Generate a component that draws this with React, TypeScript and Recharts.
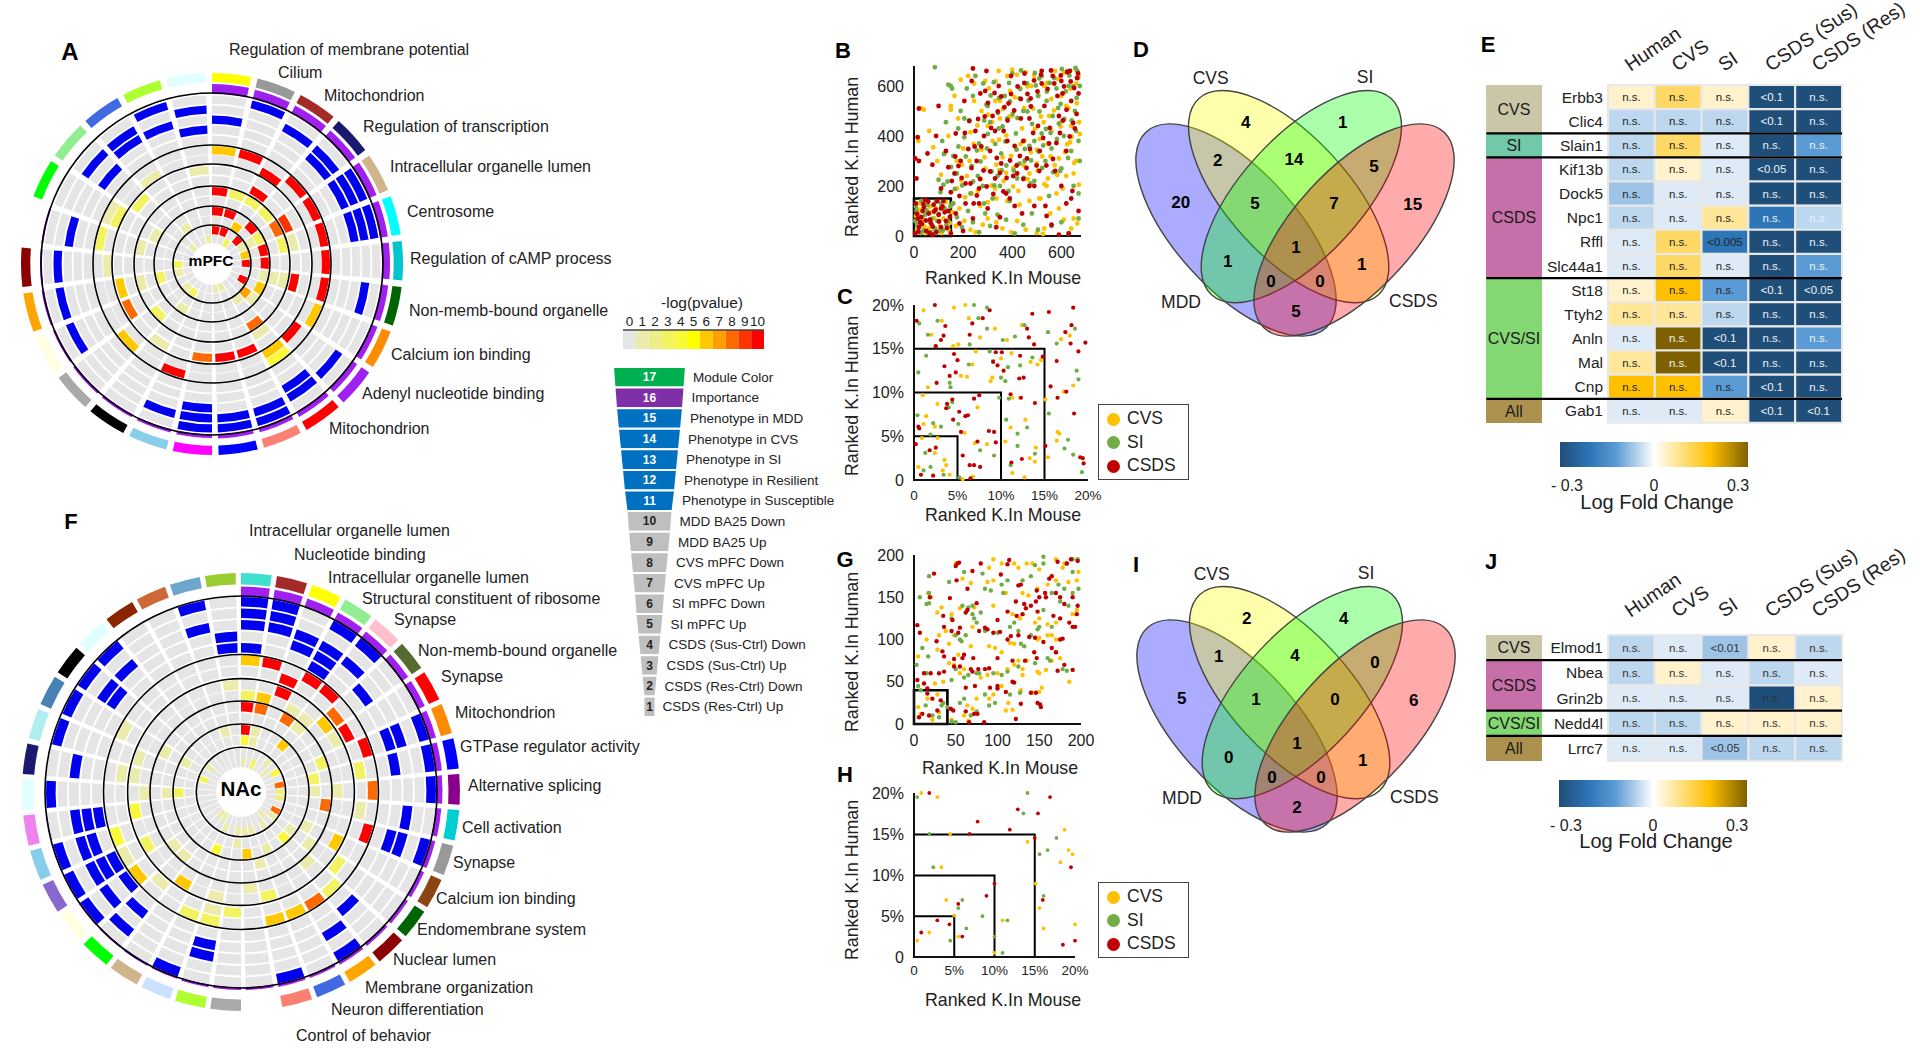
import React from "react";
import {
  PieChart, Pie, Sector, ScatterChart, Scatter, XAxis, YAxis, ReferenceArea, ReferenceLine,
  BarChart, Bar, Cell, LabelList, Legend, FunnelChart, Funnel,
} from "recharts";

const FONT = '"Liberation Sans", Arial, sans-serif';
const INK = "#222";
const GREY = "#e5e5e5";
const BLUE = "#0000ee";
const CVS_C = "#ffc000";
const SI_C = "#70ad47";
const CSDS_C = "#c00000";

// -log(pvalue) colour bins
const pvalLabels = [0, 1, 2, 3, 4, 5, 6, 7, 8, 9, 10];
const pvalColors = ["#e5e5e5", "#ebebac", "#eeee88", "#f3f362", "#f9f93a", "#ffff00", "#ffc800", "#ff9f00", "#ff6a00", "#ff3300", "#ff0000"];

// mPFC circle
const mpfcModules = ["#ffff00", "#999999", "#a52a2a", "#191970", "#d2b48c", "#00ffff", "#00c5cd", "#006400", "#ff8c00", "#a020f0", "#ff0000", "#fa8072", "#0000ff", "#ff00ff", "#87ceeb", "#000000", "#a9a9a9", "#ffffe0", "#ffa500", "#8b0000", "#ffffff", "#00ff00", "#90ee90", "#4169e1", "#adff2f", "#e0ffff"];
const mpfcImportance = [10, 9.5, 9, 8.5, 8.5, 8, 8, 7.5, 7, 6.5, 6, 5, 4.5, 4, 3.5, 3, 3, 2.5, 2.5, 2, 2, 0, 0, 0, 0, 0];
const mpfcBlue = [
  [1, 4, 5, 11, 12, 13, 24],
  [2, 3, 4, 5, 7, 9, 10, 11, 12, 13, 14, 17, 18, 19, 22, 23, 25],
  [0, 3, 4, 5, 10, 13, 20, 23, 24],
  [22, 25],
  [],
];
const mpfcHeat: Record<number, number>[] = [
  { 0: 6, 1: 10, 3: 10, 4: 10, 5: 10, 6: 10, 7: 10, 8: 6, 10: 4, 14: 10, 16: 6, 20: 3, 21: 1 },
  { 2: 10, 9: 10, 10: 6, 19: 1, 21: 3, 23: 1 },
  { 11: 10, 12: 10, 13: 8, 15: 1, 17: 8, 18: 6, 22: 3, 25: 1 },
  { 2: 10, 4: 9, 5: 1, 7: 10, 10: 1 },
  { 0: 10, 1: 3, 2: 3, 3: 3, 4: 8, 5: 3, 7: 1, 10: 8, 16: 3, 18: 1, 20: 1 },
  { 7: 1, 21: 1 },
  { 0: 10, 1: 10, 3: 10, 4: 3, 5: 10, 6: 10, 7: 1, 8: 6, 9: 1, 15: 1, 18: 3 },
  { 2: 6, 4: 1, 9: 7, 10: 1, 23: 1 },
  { 0: 10, 1: 10, 3: 10, 4: 1, 5: 6, 6: 10, 8: 10, 15: 3, 16: 1, 18: 1, 19: 3 },
  { 2: 3, 11: 1, 12: 1, 22: 1, 25: 1 },
];
const mpfcRingOuter = [168.5, 158.5, 148.5, 138.5, 128.5, 118, 109, 98, 88, 77, 67.5, 57, 48, 38, 29];
const mpfcCircles = [171, 119, 100, 78, 58, 39];
const mpfcTerms = ["Regulation of membrane potential", "Cilium", "Mitochondrion", "Regulation of transcription", "Intracellular organelle lumen", "Centrosome", "Regulation of cAMP process", "Non-memb-bound organelle", "Calcium ion binding", "Adenyl nucleotide binding", "Mitochondrion"];
const mpfcTermX = [229, 278, 324, 363, 390, 407, 410, 409, 391, 362, 329];
const mpfcTermY = [50, 73, 96, 127, 167, 212, 259, 311, 355, 394, 429];

// NAc circle
const nacModules = ["#40e0d0", "#a52a2a", "#ffff00", "#90ee90", "#ffc0cb", "#556b2f", "#ff0000", "#ff8c00", "#0000ff", "#8b008b", "#00ced1", "#999999", "#8b4513", "#006400", "#8b0000", "#ffa500", "#4169e1", "#fa8072", "#ffffff", "#a9a9a9", "#adff2f", "#cae1ff", "#d2b48c", "#00ff00", "#ffffe0", "#8968cd", "#87ceeb", "#ee82ee", "#e0ffff", "#191970", "#aeeeee", "#4682b4", "#000000", "#e0ffff", "#8b2500", "#cd6839", "#6ca6cd", "#9acd32"];
const nacImportance = [10.5, 10, 9.5, 9, 8.5, 8, 8, 7.5, 7, 6.5, 6, 5.5, 5, 4.5, 4, 4, 3.5, 3.5, 3, 3, 3, 2.5, 2.5, 2, 2, 1.5, 1.5, 1, 0, 0, 0, 0, 0, 0, 0, 0, 0, 0];
const nacBlue = [
  [0, 1, 3, 4, 7, 8, 9, 11, 15, 17, 21, 24, 25, 26, 28, 30, 31, 32, 33, 36],
  [0, 1, 23],
  [0, 1, 2, 3, 4, 7, 10, 11, 15, 20, 24, 25, 26, 27, 29, 32, 33, 36],
  [2, 3, 5, 7, 8, 11, 14, 20, 23, 25, 26, 27, 32, 37],
  [0, 3, 24, 25, 27, 37],
];
const nacHeat: Record<number, number>[] = [
  { 0: 6, 1: 10, 3: 10, 4: 10, 7: 10, 9: 8, 11: 10, 14: 3, 15: 8, 16: 6, 17: 6, 20: 3, 21: 3, 24: 6, 25: 1, 26: 4, 31: 1 },
  { 2: 10, 5: 8, 6: 10, 8: 3, 10: 1, 13: 3, 19: 3, 20: 1, 23: 1, 29: 1 },
  { 2: 10, 5: 6, 6: 1, 12: 6, 17: 3, 20: 1, 22: 6, 25: 3, 27: 4, 29: 1, 30: 1, 37: 1 },
  { 0: 3, 1: 6, 3: 1, 4: 1, 9: 1, 14: 1, 18: 1, 28: 1 },
  { 0: 10, 1: 8, 3: 8, 4: 1, 7: 3, 10: 8, 13: 1, 23: 1, 24: 1, 31: 1 },
  { 8: 3, 9: 1, 12: 1, 17: 1, 28: 1 },
  { 0: 10, 1: 1, 4: 6, 13: 1, 14: 4, 16: 1, 18: 6, 21: 4, 28: 3, 31: 1, 36: 1 },
  { 0: 4, 1: 1, 19: 1 },
  { 4: 1, 6: 4, 8: 8, 9: 2, 10: 2, 12: 8, 13: 1, 15: 1, 17: 1, 18: 1, 19: 1, 21: 1, 30: 3, 32: 1 },
  { 0: 1, 2: 3, 5: 1, 14: 1, 22: 1, 23: 1 },
];
const nacRingOuter = [195, 183.5, 172, 160.5, 149, 136.5, 125.5, 112, 101.5, 90, 79, 67, 56.5, 43.5, 34.5];
const nacCircles = [196, 137.5, 113.4, 91, 68, 44.7];
const nacTerms = ["Intracellular organelle lumen", "Nucleotide binding", "Intracellular organelle lumen", "Structural constituent of ribosome", "Synapse", "Non-memb-bound organelle", "Synapse", "Mitochondrion", "GTPase regulator activity", "Alternative splicing", "Cell activation", "Synapse", "Calcium ion binding", "Endomembrane system", "Nuclear lumen", "Membrane organization", "Neuron differentiation", "Control of behavior"];
const nacTermX = [249, 294, 328, 362, 394, 418, 441, 455, 460, 468, 462, 453, 436, 417, 393, 365, 331, 296];
const nacTermY = [531, 555, 578, 599, 620, 651, 677, 713, 747, 786, 828, 863, 899, 930, 960, 988, 1010, 1036];

// funnel key
const funnelTrack = [17, 16, 15, 14, 13, 12, 11, 10, 9, 8, 7, 6, 5, 4, 3, 2, 1];
const funnelName = ["Module Color", "Importance", "Phenotype in MDD", "Phenotype in CVS", "Phenotype in SI", "Phenotype in Resilient", "Phenotype in Susceptible", "MDD BA25 Down", "MDD BA25 Up", "CVS mPFC Down", "CVS mPFC Up", "SI mPFC Down", "SI mPFC Up", "CSDS (Sus-Ctrl) Down", "CSDS (Sus-Ctrl) Up", "CSDS (Res-Ctrl) Down", "CSDS (Res-Ctrl) Up"];
const funnelWidth = [73, 70, 67, 63, 59, 55, 51, 46, 43, 39, 35, 31, 28, 24, 20, 16, 12];
const funnelFill = ["#00b050", "#7f2fa8", "#0070c0", "#0070c0", "#0070c0", "#0070c0", "#0070c0", "#bfbfbf", "#bfbfbf", "#bfbfbf", "#bfbfbf", "#bfbfbf", "#bfbfbf", "#bfbfbf", "#bfbfbf", "#bfbfbf", "#bfbfbf"];

// scatter B, ranks (x,y flat)
const bCvs = [12,20,35,60,60,30,90,110,120,70,140,25,25,130,70,95,105,40,48,12,8,80,130,135,20,105,155,95,170,40,185,110,205,60,230,25,250,15,280,45,300,70,335,55,360,30,395,15,420,60,455,25,500,12,525,8,530,30,555,90,590,110,610,65,650,70,665,50,640,30,
  30,510,40,505,95,300,110,245,125,330,140,400,150,505,165,560,175,300,200,350,215,240,230,415,245,610,260,180,275,500,290,270,305,590,320,380,335,150,350,470,365,220,380,640,395,320,410,555,425,180,440,430,455,655,470,250,485,510,500,345,515,150,530,600,545,230,560,420,575,660,590,310,605,190,620,520,635,375,650,250,660,610,672,455,345,660,290,620,400,665,245,540,180,470,150,520,190,625,220,640,
  270,120,300,135,330,190,380,140,430,125,470,140,510,150,540,200,580,170,620,240,660,300,300,440,350,540,400,480,450,380,500,290,550,480,600,560,640,440,670,640,335,285,275,345,195,285,235,170,
  512,388,528,455,541,612,556,318,570,502,583,244,597,438,611,655,624,367,637,589,652,292,663,531,676,408,462,598,476,335,489,641,503,262,517,478,531,207,545,369,559,548,573,283,587,628,601,459,615,335,629,512,643,397,657,668,671,205,318,455,332,618,347,263,362,508,376,402,391,580,405,272,419,645,434,368,448,512,463,227,477,600,492,428,507,562,522,318,
  18,92,42,38,66,118,82,72,112,12,128,98,146,52,158,130,175,190,192,222,208,155,226,300,243,368,258,442,272,228,287,315,301,485,316,202,331,540,346,385,361,315,375,252,390,478,404,198,418,345,433,590,447,282,18,380,62,420,78,355];
const bSi = [15,45,45,85,70,15,95,60,125,110,30,140,55,125,10,100,85,30,110,130,140,60,100,20,5,60,65,55,160,130,175,75,195,35,220,100,240,55,265,15,290,90,310,40,340,85,375,65,410,10,445,45,480,90,505,25,560,40,600,55,630,10,670,70,
  85,675,155,590,140,605,150,600,115,380,130,455,160,320,175,250,190,500,205,395,215,590,235,280,250,640,265,370,280,200,295,525,310,455,325,615,340,240,355,330,370,560,385,180,400,650,415,410,430,290,445,500,460,610,475,210,490,380,505,560,520,640,535,300,550,160,565,480,580,590,595,260,610,400,625,660,640,340,655,500,665,660,675,600,670,380,675,300,
  230,170,260,240,285,130,320,150,350,200,390,140,420,230,450,300,490,220,520,410,560,350,600,270,650,200,670,170,300,520,345,430,380,470,430,550,470,360,510,630,540,540,590,450,630,600,660,420,240,560,205,470,180,430,120,205,100,225,
  658,672,668,632,648,598,662,552,633,642,618,578,602,668,587,512,571,632,556,412,541,578,526,362,511,498,496,602,481,448,466,542,451,348,436,662,421,472,406,262,391,538,376,282,361,438,346,552,331,368,316,258,301,408,286,462,271,298,256,342,241,218,226,462,211,318,196,202,181,358,166,188,151,276,136,218,122,328,108,175,
  642,462,627,312,612,468,597,528,582,388,567,255,552,612,537,428,522,272,507,338,492,652,477,302,462,498,447,232,432,588,417,346,402,488,387,612,372,378,357,262,342,492,327,202,312,562,297,350,282,610,8,118,22,78,38,22,52,102,72,68,88,136,102,88,118,22,132,45,148,118,28,12];
const bCsds = [5,10,20,35,30,75,40,115,50,20,60,90,70,50,80,125,90,15,100,85,110,35,120,140,130,60,140,100,150,10,25,55,75,5,95,140,45,145,8,130,110,110,65,65,35,100,15,70,125,95,
  20,510,20,300,15,395,5,310,10,230,55,330,75,285,90,400,100,520,110,190,130,340,140,275,150,175,165,250,170,410,185,160,190,300,205,540,210,210,225,460,235,620,240,670,255,300,265,190,270,570,285,400,295,660,310,340,320,480,330,230,345,600,355,290,365,420,375,170,385,530,395,640,410,360,420,250,435,470,450,650,460,310,475,550,490,200,505,440,520,610,535,120,550,370,565,640,575,260,590,480,605,570,620,340,635,660,645,180,655,430,668,650,670,570,640,540,600,620,520,660,470,470,445,380,380,380,330,420,290,580,250,420,230,210,210,130,
  170,90,185,50,200,20,240,70,265,130,300,110,335,35,350,75,390,150,410,120,440,90,490,120,540,80,560,45,590,5,630,10,620,130,670,100,640,150,600,200,510,260,470,200,
  664,632,652,592,638,618,624,655,611,598,598,642,584,560,571,610,558,662,544,588,531,520,517,645,503,578,489,622,476,518,462,568,449,612,435,548,422,598,408,502,395,568,381,462,368,515,355,558,341,498,328,572,314,432,301,532,288,478,274,358,261,468,247,358,234,272,221,348,207,412,194,232,181,280,168,318,154,220,
  662,488,648,452,634,398,621,505,607,462,594,412,580,372,566,308,553,432,539,282,526,392,512,340,499,282,485,412,472,348,458,272,445,228,431,320,418,282,404,240,391,302,377,232,364,178,350,252,337,312,323,168,310,258,296,198,283,262,269,228,256,162,243,130,18,18,32,48,48,62,62,12,76,38,88,105,102,58,116,118,134,32,146,76,38,128,58,138,12,88,82,98];

// scatter C, percent
const cCvs = [1.1,19.4,4.6,19.7,5.9,20,6.3,18.5,2,16.6,3.2,18.2,7.6,16.3,9.3,17.3,10.7,16,4.5,15.3,5.1,15.5,12.4,17.7,17.9,16.5,16.9,16.1,7.1,14.7,10,13.9,11.2,14.5,13.4,13.5,14.6,13.7,14.2,13.2,6.7,13.2,5.4,11.9,6.1,11.8,9,11.7,8.8,11.3,1.6,10.6,18.3,10.8,17.2,10.1,15.1,9.2,11.3,9.4,12.2,9.4,1,9.7,2.7,8.7,7.3,8.3,1.4,7.3,1.1,6.4,2.4,6.1,11.1,6,12.8,6.9,16.5,5.5,16.7,5.3,16.4,4.5,0.9,4.8,2.7,4.8,5.8,5.4,7,4.2,8.4,4.1,10.5,4.4,14,3.7,2.4,3.1,3.5,2.3,0.5,1.5,3.7,1.7,3.3,1.1,4.1,0.6,5.6,0.1,6.8,0.4,11.3,0.8,12.7,0.3,13.3,2.5,13.9,2.1,15.4,2.6];
const cSi = [0.6,17.9,6.9,20,8.4,19.7,2.7,18.2,7.4,18.5,8.4,17.3,1.6,16.6,12.7,17.7,11.6,16.4,10.2,16,6.4,15.5,2.5,15.3,15.4,16.9,18.5,17.3,16.4,15.6,1.4,14.2,0.5,12.3,8.7,14.7,6.3,13.2,9.1,13.6,12.2,13.1,10.8,12.9,13.6,14,18.7,12.5,18.9,11.5,10,11.7,10.5,11.3,4.1,11.1,4.2,10.6,9.8,9.4,10.9,9.3,4,8.3,4.4,8.9,15.5,7.6,0.4,7.4,2.2,6.5,3.1,6.1,5.1,6.4,10.6,6.9,13,6,11.9,5.3,1.9,5.2,17.7,4.6,17.3,3.6,11.9,3.9,7.6,3.4,1.3,3.1,13.9,3,9.2,2.8,18.3,2.9,1.1,1.1,1.9,1.5,3.4,0.6,11.1,1.7,19.3,0.9,5.2,0.3];
const cCsds = [0.3,18.2,2.4,20,6.7,17.9,8.7,19.4,7.9,18.5,3.6,17.6,13.6,19,15.5,19.2,18.3,19.7,18.1,17.7,17.4,16.9,13,17.3,13.2,16.3,6.4,16.6,3.4,16.5,3.1,16,2.5,15.3,18,15.6,19.7,15.7,13.8,15.5,18.9,14.7,4.6,14.4,9.4,14.6,12.2,14.2,10.1,14.6,14.8,14.1,5,13.7,9.1,13.5,16.4,13.6,3.5,13,4.8,12.3,9.6,13.1,10.3,12.5,4.1,11.9,2.6,11.1,12.1,11.6,12.6,11.7,15.7,10.7,17.5,10.1,7.5,9.7,11.1,9.8,6.9,9.3,12.3,9.4,16.5,9.4,4.4,9.2,3.8,8.7,3.7,8.2,13.9,8.8,5.2,7.8,6.2,7.4,4.5,6.9,5.9,7.3,18.4,7.6,0.5,6.1,0.6,5.9,8.6,5.6,9.2,5.5,5.4,5.5,9.4,4.3,7.3,4.4,15.1,3.9,0.2,4.1,2.5,3.7,1.8,3.4,5.6,2.8,12.4,2.4,11.2,2,19.1,2.6,19.4,2.5,19.5,1.9,6.4,1.7,7.6,1.5,6.9,1.7,0.8,0.6,2.2,0.5,6.5,0.2];

// scatter G, ranks
const gCvs = [5,80,15,100,28,132,33,138,17,155,20,150,38,110,30,105,50,190,58,172,68,167,88,168,95,170,90,185,95,195,105,190,120,190,125,185,135,190,142,190,150,183,170,195,178,185,180,190,197,180,195,170,185,168,170,170,160,165,148,160,137,152,130,155,110,155,95,140,72,138,55,137,45,130,70,115,118,130,127,125,145,120,150,125,160,118,170,120,195,135,190,130,160,105,165,105,170,100,150,102,148,100,115,96,120,95,105,85,97,90,90,92,68,92,48,105,42,95,28,88,53,82,42,72,48,70,60,65,55,60,35,50,25,48,28,35,16,30,5,20,8,12,22,5,30,14,45,5,60,10,64,22,70,18,65,4,75,30,90,30,95,35,100,60,112,65,120,70,125,75,130,65,135,75,130,58,148,62,150,60,158,64,165,75,175,78,186,50,150,38,153,43,142,37,113,25,110,16,118,17,128,40,105,45,88,58,80,55];
const gSi = [7,150,15,142,18,155,18,143,17,80,10,90,3,70,15,60,5,45,8,40,14,22,22,10,30,8,45,3,50,2,40,20,33,22,35,25,55,25,60,30,68,10,75,15,85,35,90,22,97,25,115,35,127,37,45,52,50,65,60,55,65,58,75,60,78,60,95,60,105,58,112,62,125,68,145,72,160,78,163,75,170,85,183,63,178,65,45,125,50,105,55,100,57,98,62,105,70,130,72,125,75,120,85,110,100,108,115,115,120,120,125,110,128,95,132,92,140,105,150,115,148,112,155,135,165,115,175,145,185,140,190,155,197,160,190,180,196,195,190,195,183,190,155,198,155,190,145,188,130,170,140,175,112,170,105,165,92,158,85,160,107,155,82,178,60,180,42,168,18,175,58,140,65,138,70,140,80,132,165,155,173,165,180,160];
const gCsds = [4,117,7,108,24,178,19,150,43,149,50,187,52,190,54,191,51,170,64,160,70,181,80,190,75,143,104,177,112,189,114,194,125,164,128,165,122,145,132,142,134,137,140,140,146,145,147,158,157,155,158,150,162,172,165,175,172,192,183,190,188,195,196,193,150,150,170,155,175,150,180,142,190,150,196,140,195,130,186,120,190,115,193,115,175,125,167,128,148,133,130,130,123,128,112,133,100,123,64,135,62,132,46,123,35,128,36,115,53,108,55,114,45,110,78,110,85,114,88,112,95,108,103,109,112,100,116,104,125,105,138,103,145,102,155,97,165,90,178,101,175,100,170,85,144,85,118,75,100,78,90,66,85,65,77,65,68,65,70,62,55,68,48,77,34,86,36,80,27,98,60,82,58,78,71,78,133,75,147,78,180,70,190,64,172,63,120,49,110,38,100,45,91,43,62,43,73,45,100,42,118,50,140,37,146,37,148,25,151,23,152,20,128,24,122,6,84,2,66,2,76,12,72,12,62,15,47,16,44,18,16,42,12,48,4,52,12,60,20,60,30,60,36,62,48,68,16,36,22,30,32,28,28,16,18,10,10,12,6,8];

// scatter H, percent
const hCvs = [0.9,20.1,2.9,19.6,4.5,15.1,3.4,11,4,7,5,5.1,1.9,3,0.4,2,5.5,2.5,10,0.5,11,4.5,14.1,14.1,15.1,9,15.6,6,16.1,3.5,18.7,15.6,19.2,13.1,19.7,12.6,18.2,11.6,20,4];
const hSi = [0.4,19.6,1.9,15.1,2.4,11,6,7,5.5,6,8.5,5,6.5,3.5,4.5,2,10,2.5,11,0.5,11.6,4.5,14.1,20.1,13.6,17.6,17.7,14.6,16.6,13.1,15.6,12.6,16.1,7.5];
const hCsds = [1.9,20.1,16.9,19.6,12.9,18.1,15.4,17.6,7.9,16.6,11.9,15.6,6.9,15.1,15,14.6,19.5,11,10,9,9,7.5,5.5,6.5,16,7,2.9,4.5,4.4,4,0.9,3,6,2.5,20,2,18.5,1.5];

const legendNames = ["CVS", "SI", "CSDS"];
const legendColors = [CVS_C, SI_C, CSDS_C];

// venn
const vennNames = ["MDD", "CVS", "SI", "CSDS"];
const vennFill = ["#0000ff", "#ffff00", "#00ff00", "#ff0000"];
const vennCx = [348, 506, 544, 702];
const vennCy = [600, 500, 500, 600];
const vennTilt = [47.5, 47.5, -47.5, -47.5];
const vennNameX = [183, 272, 735, 880];
const vennNameY = [815, 143, 140, 813];
const vennSpotX = [182, 377, 668, 878, 293, 522, 762, 405, 642, 323, 528, 725, 453, 600, 528];
const vennSpotY = [518, 277, 277, 522, 390, 387, 410, 520, 520, 693, 653, 703, 753, 753, 845];
const dCounts = [20, 4, 1, 15, 2, 14, 5, 5, 7, 1, 1, 1, 0, 0, 5];
const iCounts = [5, 2, 4, 6, 1, 4, 0, 1, 0, 0, 1, 1, 0, 0, 2];

// heatmaps
const lfcStops = [-0.3, -0.25, -0.2, -0.12, -0.08, -0.03, 0.03, 0.08, 0.12, 0.2, 0.3];
const lfcColors = ["#1f4e79", "#2e75b6", "#5b9bd5", "#9dc3e6", "#bdd7ee", "#deebf7", "#fff2cc", "#ffe699", "#ffd966", "#ffc000", "#7f6000"];
const heatCols = ["Human", "CVS", "SI", "CSDS (Sus)", "CSDS (Res)"];

const eGenes = ["Erbb3", "Clic4", "Slain1", "Kif13b", "Dock5", "Npc1", "Rffl", "Slc44a1", "St18", "Ttyh2", "Anln", "Mal", "Cnp", "Gab1"];
const eHuman = [0.03, -0.08, -0.08, -0.08, -0.12, -0.08, -0.03, -0.03, 0.03, 0.08, -0.03, 0.08, 0.2, -0.03];
const eCvs = [0.12, -0.08, 0.12, 0.03, -0.03, -0.03, 0.12, 0.12, 0.2, 0.08, 0.3, 0.3, 0.2, -0.03];
const eSi = [0.03, -0.08, -0.03, -0.03, -0.03, 0.08, -0.25, -0.03, -0.2, -0.08, -0.3, -0.3, -0.2, 0.03];
const eSus = [-0.3, -0.3, -0.3, -0.3, -0.3, -0.25, -0.3, -0.3, -0.3, -0.3, -0.3, -0.3, -0.3, -0.3];
const eRes = [-0.3, -0.3, -0.2, -0.3, -0.3, -0.08, -0.3, -0.2, -0.3, -0.3, -0.2, -0.3, -0.3, -0.3];
const ePvals: Record<string, string> = { "Erbb3:3": "<0.1", "Clic4:3": "<0.1", "Kif13b:3": "<0.05", "Rffl:2": "<0.005", "St18:3": "<0.1", "St18:4": "<0.05", "Anln:2": "<0.1", "Mal:2": "<0.1", "Cnp:3": "<0.1", "Gab1:3": "<0.1", "Gab1:4": "<0.1" };
const eGroups = ["CVS", "SI", "CSDS", "CVS/SI", "All"];
const eGroupSizes = [2, 1, 5, 5, 1];
const groupColors: Record<string, string> = { CVS: "#c9c7a8", SI: "#72c9a8", CSDS: "#c66fa8", "CVS/SI": "#84d873", All: "#ad914f" };
const eBreaks = ["Clic4", "Slain1", "Slc44a1", "Cnp"];

const jGenes = ["Elmod1", "Nbea", "Grin2b", "Nedd4l", "Lrrc7"];
const jHuman = [-0.08, -0.08, -0.03, -0.08, -0.03];
const jCvs = [-0.03, 0.03, -0.03, -0.08, -0.03];
const jSi = [-0.12, -0.03, -0.03, 0.03, -0.12];
const jSus = [0.03, -0.08, -0.3, 0.03, -0.08];
const jRes = [-0.08, -0.03, 0.03, 0.03, -0.08];
const jPvals: Record<string, string> = { "Elmod1:2": "<0.01", "Lrrc7:2": "<0.05" };
const jGroups = ["CVS", "CSDS", "CVS/SI", "All"];
const jGroupSizes = [1, 2, 1, 1];
const jBreaks = ["Elmod1", "Grin2b", "Nedd4l"];

const pts = (flat: number[]) => {
  const out: { x: number; y: number }[] = [];
  for (let i = 0; i < flat.length; i += 2) out.push({ x: flat[i], y: flat[i + 1] });
  return out;
};
const lfcColor = (v: number) => lfcColors[lfcStops.indexOf(v)] ?? "#fff";

function Caption({ x, y, size = 16, bold, anchor = "middle", rotate = 0, children }: any) {
  const tx = anchor === "middle" ? "-50%" : "0";
  return (
    <div style={{
      position: "absolute", left: x, top: y, fontSize: size, fontWeight: bold ? 700 : 400, color: bold ? "#000" : INK,
      whiteSpace: "nowrap", lineHeight: 1, transform: `translate(${tx},-50%) rotate(${rotate}deg)`,
    }}>{children}</div>
  );
}

function CirclePanel({ left, top, size, modules, blue, heat, importance, ringOuter, thick, colorRing, impBase, gap, circles }: any) {
  const colorData = modules.map((c: string) => ({ v: 1, fill: c }));
  const impData = importance.map((h: number) => ({ v: 1, fill: "#a020f0", imp: h }));
  const tracks = [
    ...blue.map((list: number[]) => modules.map((_: string, k: number) => ({ v: 1, fill: list.includes(k) ? BLUE : GREY }))),
    ...heat.map((t: Record<number, number>) => modules.map((_: string, k: number) => ({ v: 1, fill: pvalColors[t[k] || 0] }))),
  ];
  const common = { dataKey: "v", cx: "50%", cy: "50%", startAngle: 90, endAngle: -270, stroke: "none", isAnimationActive: false, labelLine: false };
  return (
    <div style={{ position: "absolute", left, top }}>
      <PieChart width={size} height={size} margin={{ top: 0, right: 0, bottom: 0, left: 0 }}>
        <Pie {...common} data={colorData} innerRadius={colorRing[0]} outerRadius={colorRing[1]} paddingAngle={gap} />
        <Pie {...common} data={impData} innerRadius={impBase} outerRadius={impBase + 12} paddingAngle={gap}
          shape={(p: any) => <Sector {...p} innerRadius={impBase} outerRadius={impBase + (p.payload?.imp ?? p.imp ?? 0)} />} />
        {tracks.map((d: any, i: number) => (
          <Pie key={i} {...common} data={d} innerRadius={ringOuter[i] - thick} outerRadius={ringOuter[i]} paddingAngle={gap} />
        ))}
        {circles.map((r: number) => (
          <Pie key={r} {...common} data={[{ v: 1, fill: "#000" }]} innerRadius={r - 0.8} outerRadius={r + 0.8} />
        ))}
      </PieChart>
    </div>
  );
}

const tickStyle = { fontSize: 16, fill: INK };

function ScatterPanel({ left, top, plotW, plotH, domain, xTicks, yTicks, xFmt, yFmt, xFont = 16, xMargin = 11, cvs, si, csds, boxes, boxWidth = 2, dot = 2 }: any) {
  const dotShape = (fill: string) => (p: any) => <circle cx={p.cx} cy={p.cy} r={dot} fill={fill} />;
  return (
    <div style={{ position: "absolute", left, top }}>
      <ScatterChart width={74 + plotW + 30} height={plotH + 52} margin={{ top: 10, right: 30, bottom: 0, left: 0 }}>
        <XAxis type="number" dataKey="x" domain={domain} ticks={xTicks} tickFormatter={xFmt} interval={0}
          height={42} tickLine={false} tickSize={0} tickMargin={xMargin} axisLine={{ stroke: "#111", strokeWidth: 2 }} tick={{ fontSize: xFont, fill: INK }} />
        <YAxis type="number" dataKey="y" domain={domain} ticks={yTicks} tickFormatter={yFmt} interval={0}
          width={74} tickLine={false} tickSize={0} tickMargin={10} axisLine={{ stroke: "#111", strokeWidth: 2 }} tick={tickStyle} />
        <Scatter data={pts(cvs)} shape={dotShape(CVS_C)} isAnimationActive={false} />
        <Scatter data={pts(si)} shape={dotShape(SI_C)} isAnimationActive={false} />
        <Scatter data={pts(csds)} shape={dotShape(CSDS_C)} isAnimationActive={false} />
        {boxes.map((b: number) => (
          <ReferenceArea key={b} x1={0} x2={b} y1={0} y2={b} fill="none" stroke="#000" strokeWidth={boxWidth} ifOverflow="visible" />
        ))}
      </ScatterChart>
    </div>
  );
}

function LegendBox({ left, top }: any) {
  return (
    <div style={{ position: "absolute", left, top, width: 91, height: 76, border: "1.5px solid #444", boxSizing: "border-box" }}>
      <ScatterChart width={88} height={73} margin={{ top: 0, right: 0, bottom: 0, left: 0 }}>
        <XAxis type="number" dataKey="x" hide />
        <YAxis type="number" dataKey="y" hide />
        {legendNames.map((n, i) => (
          <Scatter key={n} name={n} data={[]} fill={legendColors[i]} legendType="circle" isAnimationActive={false} />
        ))}
        <Legend layout="vertical" align="left" verticalAlign="top" iconSize={13} itemSorter={null}
          wrapperStyle={{ left: 8, top: 2, lineHeight: "23.5px", fontSize: 17.5 }}
          formatter={(v: string) => <span style={{ color: INK, marginLeft: 3 }}>{v}</span>} />
      </ScatterChart>
    </div>
  );
}

function Venn({ left, top, counts }: any) {
  const sets = vennNames.map((n, i) => ({ x: vennCx[i], y: vennCy[i], i }));
  const names = vennNames.map((n, i) => ({ x: vennNameX[i], y: vennNameY[i], n }));
  const spots = counts.map((n: number, i: number) => ({ x: vennSpotX[i], y: vennSpotY[i], n }));
  return (
    <div style={{ position: "absolute", left, top }}>
      <ScatterChart width={350} height={330} margin={{ top: 0, right: 0, bottom: 0, left: 0 }}>
        <XAxis type="number" dataKey="x" domain={[0, 1050]} hide />
        <YAxis type="number" dataKey="y" domain={[0, 990]} reversed hide />
        <Scatter data={sets} isAnimationActive={false} shape={(p: any) => (
          <ellipse cx={p.cx} cy={p.cy} rx={133} ry={60} fill={vennFill[p.payload.i]} fillOpacity={0.33} stroke="#444" strokeWidth={1.4}
            transform={`rotate(${vennTilt[p.payload.i]} ${p.cx} ${p.cy})`} />
        )} />
        <Scatter data={spots} isAnimationActive={false} shape={(p: any) => (
          <text x={p.cx} y={p.cy} textAnchor="middle" dominantBaseline="central" fontSize={17} fontWeight={700} fill="#000">{p.payload.n}</text>
        )} />
        <Scatter data={names} isAnimationActive={false} shape={(p: any) => (
          <text x={p.cx} y={p.cy} textAnchor="middle" dominantBaseline="central" fontSize={17.5} fill={INK}>{p.payload.n}</text>
        )} />
      </ScatterChart>
    </div>
  );
}

function HeatPanel({ top, headH, headY, rowH, genes, columns, pvals, groups, groupSizes, breaks, lightText }: any) {
  const rows = genes.map((g: string) => ({ gene: g, c0: 1, c1: 1, c2: 1, c3: 1, c4: 1 }));
  const groupRow: any = { name: "g" };
  groups.forEach((g: string) => { groupRow[g] = groupSizes[groups.indexOf(g)]; });
  const plotH = rowH * genes.length;
  const textFill = (col: number, v: number) => {
    if (!lightText) return "#333";
    if (col >= 3) return v <= -0.08 ? "#eef3f8" : "#333";
    return Math.abs(v) >= 0.3 ? "#eef3f8" : "#222";
  };
  return (
    <>
      <div style={{ position: "absolute", left: 1486, top: top + headH }}>
        <BarChart width={56} height={plotH} data={[groupRow]} barCategoryGap={0} margin={{ top: 0, right: 0, bottom: 0, left: 0 }}>
          <XAxis dataKey="name" hide />
          <YAxis type="number" domain={[0, genes.length]} reversed hide />
          {groups.map((g: string) => (
            <Bar key={g} dataKey={g} stackId="g" fill={groupColors[g]} isAnimationActive={false}>
              <LabelList position="center" fontSize={16} fill="#1a1a1a" formatter={() => g} />
            </Bar>
          ))}
        </BarChart>
      </div>
      <div style={{ position: "absolute", left: 1460, top }}>
        <BarChart width={460} height={headH + plotH + 2} data={rows} layout="vertical" barCategoryGap={0} margin={{ top: 0, right: 78, bottom: 2, left: 0 }}>
          <XAxis type="number" orientation="top" domain={[0, 5]} ticks={[0.5, 1.5, 2.5, 3.5, 4.5]} interval={0} height={headH} axisLine={false} tickLine={false}
            tick={(p: any) => (
              <text x={p.x - 1} y={p.y + headY} transform={`rotate(-34 ${p.x - 1} ${p.y + headY})`} textAnchor="start" fontSize={19.5} fill={INK}>
                {heatCols[Math.round(p.payload.value - 0.5)]}
              </text>
            )} />
          <YAxis type="category" dataKey="gene" width={148} interval={0} axisLine={false} tickLine={false} tickSize={0} tickMargin={5} tick={{ fontSize: 15.5, fill: INK }} />
          {columns.map((vals: number[], col: number) => (
            <Bar key={col} dataKey={`c${col}`} stackId="h" isAnimationActive={false}>
              {vals.map((v, i) => <Cell key={i} fill={lfcColor(v)} stroke="#e8e8e8" strokeWidth={2} />)}
              <LabelList content={(p: any) => (
                <text x={p.x + p.width / 2} y={p.y + p.height / 2} textAnchor="middle" dominantBaseline="central" fontSize={11.5}
                  fill={textFill(col, vals[p.index])}>
                  {pvals[`${genes[p.index]}:${col}`] ?? "n.s."}
                </text>
              )} />
            </Bar>
          ))}
          {breaks.map((g: string) => (
            <ReferenceLine key={g} segment={[{ x: -2.6, y: g }, { x: 5, y: g }]} position="end" stroke="#000" strokeWidth={2.2} ifOverflow="visible" />
          ))}
        </BarChart>
      </div>
    </>
  );
}

const lfcBarRange = [{ name: "lfc", span: [-0.3, 0.3] }];

function ColorBar({ left, top, w, h, id }: any) {
  const labels: Record<string, string> = { "-0.3": "- 0.3", "0": "0", "0.3": "0.3" };
  return (
    <div style={{ position: "absolute", left: left - 30, top }}>
      <BarChart width={w + 60} height={h + 30} data={lfcBarRange} layout="vertical" barCategoryGap={0} margin={{ top: 0, right: 30, bottom: 0, left: 30 }}>
        <defs>
          <linearGradient id={id} x1="0" x2="1" y1="0" y2="0">
            <stop offset="0" stopColor="#1f4e79" />
            <stop offset="0.16" stopColor="#2e75b6" />
            <stop offset="0.3" stopColor="#5b9bd5" />
            <stop offset="0.42" stopColor="#bdd7ee" />
            <stop offset="0.5" stopColor="#ffffff" />
            <stop offset="0.62" stopColor="#ffe699" />
            <stop offset="0.8" stopColor="#ffc000" />
            <stop offset="1" stopColor="#7f6000" />
          </linearGradient>
        </defs>
        <XAxis type="number" domain={[-0.3, 0.3]} ticks={[-0.3, 0, 0.3]} interval={0} height={30} axisLine={false} tickLine={false}
          tick={(p: any) => (
            <text x={p.x + (p.payload.value < 0 ? 7 : p.payload.value > 0 ? -10 : 0)} y={p.y + 16} textAnchor="middle" fontSize={16} fill={INK}>
              {labels[String(p.payload.value)]}
            </text>
          )} />
        <YAxis type="category" dataKey="name" hide />
        <Bar dataKey="span" fill={`url(#${id})`} isAnimationActive={false} />
      </BarChart>
    </div>
  );
}

function PvalLegend() {
  const row: any = { name: "p" };
  pvalLabels.forEach((l) => { row[`p${l}`] = 1; });
  return (
    <div style={{ position: "absolute", left: 613, top: 310 }}>
      <BarChart width={161} height={39} data={[row]} layout="vertical" barCategoryGap={0} margin={{ top: 0, right: 10, bottom: 0, left: 10 }}>
        <XAxis type="number" orientation="top" domain={[0, 11]} ticks={pvalLabels.map((l) => l + 0.5)} tickFormatter={(v: number) => String(v - 0.5)} interval={0}
          height={20} tickLine={false} tickSize={0} tickMargin={4} axisLine={{ stroke: "#444", strokeWidth: 1.5 }} tick={{ fontSize: 13.5, fill: INK }} />
        <YAxis type="category" dataKey="name" hide />
        {pvalLabels.map((l, i) => (
          <Bar key={l} dataKey={`p${l}`} stackId="p" fill={pvalColors[i]} isAnimationActive={false} />
        ))}
      </BarChart>
    </div>
  );
}

function TrackFunnel() {
  const rows = funnelTrack.map((t, i) => ({ track: t, name: funnelName[i], width: funnelWidth[i], fill: funnelFill[i] }));
  return (
    <div style={{ position: "absolute", left: 600, top: 367 }}>
      <FunnelChart width={280} height={350} margin={{ top: 0, right: 194, bottom: 0, left: 13 }}>
        <Funnel dataKey="width" nameKey="name" data={rows} isAnimationActive={false} lastShapeType="rectangle" stroke="#fff" strokeWidth={2}>
          <LabelList dataKey="name" content={(p: any) => (
            <text x={p.x + p.width + 7} y={p.y + p.height / 2} dominantBaseline="central" fontSize={13.5} fill={INK}>{p.value}</text>
          )} />
          <LabelList dataKey="track" content={(p: any) => (
            <text x={p.x + p.width / 2} y={p.y + p.height / 2} textAnchor="middle" dominantBaseline="central" fontSize={12} fontWeight={700}
              fill={p.value >= 11 ? "#fff" : "#222"}>{p.value}</text>
          )} />
        </Funnel>
      </FunnelChart>
    </div>
  );
}

const pct = (v: number) => (v === 0 ? "0" : `${v}%`);

export default function App() {
  return (
    <div style={{ position: "absolute", left: 0, top: 0, width: 1920, height: 1049, overflow: "hidden", background: "#fff", fontFamily: FONT, color: INK }}>
      <CirclePanel left={12} top={64} size={400} modules={mpfcModules} blue={mpfcBlue} heat={mpfcHeat} importance={mpfcImportance}
        ringOuter={mpfcRingOuter} thick={8.2} colorRing={[181.7, 191]} impBase={170} gap={2} circles={mpfcCircles} />
      <Caption x={211} y={261} bold size={15.5}>mPFC</Caption>
      {mpfcTerms.map((t, i) => <Caption key={i} x={mpfcTermX[i]} y={mpfcTermY[i]} anchor="start">{t}</Caption>)}

      <CirclePanel left={16} top={567} size={450} modules={nacModules} blue={nacBlue} heat={nacHeat} importance={nacImportance}
        ringOuter={nacRingOuter} thick={9.6} colorRing={[207.5, 219]} impBase={195} gap={1.4} circles={nacCircles} />
      <Caption x={241} y={789} bold size={20.5}>NAc</Caption>
      {nacTerms.map((t, i) => <Caption key={i} x={nacTermX[i]} y={nacTermY[i]} anchor="start">{t}</Caption>)}

      <Caption x={702} y={303} size={15.5}>-log(pvalue)</Caption>
      <PvalLegend />
      <TrackFunnel />

      <ScatterPanel left={840} top={56} plotW={167} plotH={170} domain={[0, 680]} xTicks={[0, 200, 400, 600]} yTicks={[0, 200, 400, 600]}
        cvs={bCvs} si={bSi} csds={bCsds} boxes={[150]} boxWidth={2.6} dot={2.4} />
      <Caption x={1003} y={279} size={17.8}>Ranked K.In Mouse</Caption>
      <Caption x={853} y={157} size={17.8} rotate={-90}>Ranked K.In Human</Caption>

      <ScatterPanel left={840} top={295} plotW={174} plotH={175} domain={[0, 20]} xTicks={[0, 5, 10, 15, 20]} yTicks={[0, 5, 10, 15, 20]} xFmt={pct} yFmt={pct}
        xFont={13.5} xMargin={10} cvs={cCvs} si={cSi} csds={cCsds} boxes={[5, 10, 15]} dot={2.1} />
      <Caption x={1003} y={516} size={17.8}>Ranked K.In Mouse</Caption>
      <Caption x={853} y={396} size={17.8} rotate={-90}>Ranked K.In Human</Caption>
      <LegendBox left={1098} top={404} />

      <ScatterPanel left={840} top={545} plotW={167} plotH={169} domain={[0, 200]} xTicks={[0, 50, 100, 150, 200]} yTicks={[0, 50, 100, 150, 200]}
        cvs={gCvs} si={gSi} csds={gCsds} boxes={[40]} boxWidth={2.6} dot={2.2} />
      <Caption x={1000} y={769} size={17.8}>Ranked K.In Mouse</Caption>
      <Caption x={853} y={652} size={17.8} rotate={-90}>Ranked K.In Human</Caption>

      <ScatterPanel left={840} top={783} plotW={161} plotH={164} domain={[0, 20]} xTicks={[0, 5, 10, 15, 20]} yTicks={[0, 5, 10, 15, 20]} xFmt={pct} yFmt={pct}
        xFont={13.5} xMargin={8} cvs={hCvs} si={hSi} csds={hCsds} boxes={[5, 10, 15]} dot={1.9} />
      <Caption x={1003} y={1001} size={17.8}>Ranked K.In Mouse</Caption>
      <Caption x={853} y={880} size={17.8} rotate={-90}>Ranked K.In Human</Caption>
      <LegendBox left={1098} top={882} />

      <Venn left={1120} top={30} counts={dCounts} />
      <Venn left={1121} top={526} counts={iCounts} />

      <HeatPanel top={0} headH={85} headY={-5} rowH={24.14} genes={eGenes} columns={[eHuman, eCvs, eSi, eSus, eRes]} pvals={ePvals}
        groups={eGroups} groupSizes={eGroupSizes} breaks={eBreaks} lightText />
      <ColorBar left={1560} top={442} w={188} h={25} id="lfcE" />
      <Caption x={1657} y={502} size={20}>Log Fold Change</Caption>

      <HeatPanel top={525} headH={110} headY={-9} rowH={25.2} genes={jGenes} columns={[jHuman, jCvs, jSi, jSus, jRes]} pvals={jPvals}
        groups={jGroups} groupSizes={jGroupSizes} breaks={jBreaks} lightText={false} />
      <ColorBar left={1559} top={780} w={188} h={27} id="lfcJ" />
      <Caption x={1656} y={841} size={20}>Log Fold Change</Caption>

      <Caption x={70} y={52} bold size={24}>A</Caption>
      <Caption x={843} y={51} bold size={22}>B</Caption>
      <Caption x={845} y={297} bold size={22}>C</Caption>
      <Caption x={1141} y={50} bold size={22}>D</Caption>
      <Caption x={1488} y={45} bold size={22}>E</Caption>
      <Caption x={71} y={522} bold size={22}>F</Caption>
      <Caption x={845} y={560} bold size={22}>G</Caption>
      <Caption x={845} y={775} bold size={22}>H</Caption>
      <Caption x={1136} y={565} bold size={22}>I</Caption>
      <Caption x={1491} y={562} bold size={22}>J</Caption>
    </div>
  );
}
